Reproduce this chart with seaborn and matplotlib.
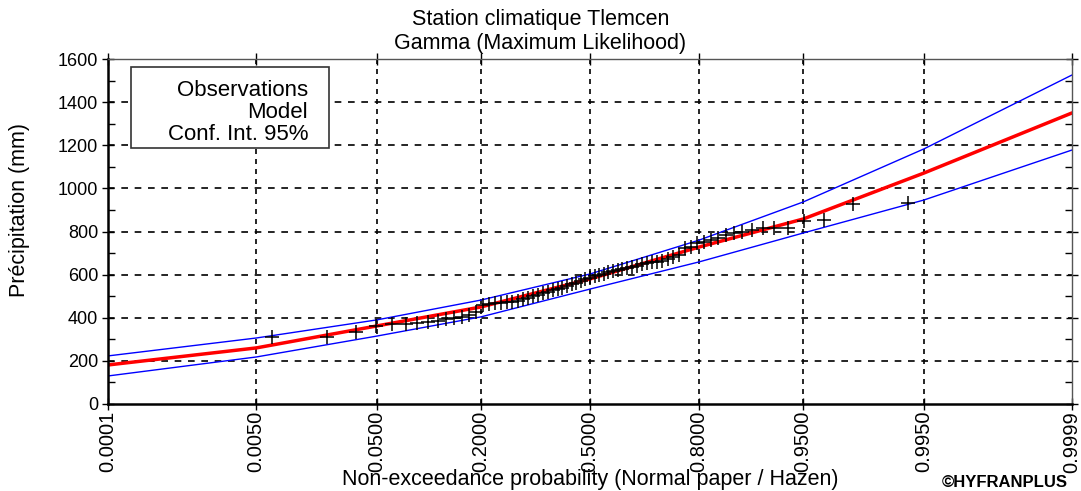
from statistics import NormalDist
import numpy as np
import pandas as pd
import seaborn as sns
import matplotlib.pyplot as plt
from matplotlib.patches import Rectangle
from matplotlib.ticker import FixedLocator, MultipleLocator

# observed annual precipitation (mm), sorted
obs_mm = [310, 312, 335, 362, 370, 372, 375, 378, 385, 392,
          400, 405, 415, 425, 460, 465, 468, 470, 472, 475,
          480, 485, 492, 500, 505, 515, 520, 528, 532, 538,
          545, 555, 563, 572, 580, 585, 595, 600, 605, 612,
          615, 620, 625, 630, 635, 640, 648, 652, 658, 660,
          663, 672, 680, 690, 722, 730, 745, 752, 760, 772,
          782, 795, 800, 808, 815, 815, 815, 850, 855, 928,
          930]

# fitted gamma quantiles and 95% confidence bounds
model_p = [0.0001, 0.005, 0.05, 0.2, 0.5, 0.8, 0.95, 0.995, 0.9999]
model_mm = [181, 260, 362, 450, 580, 728, 858, 1071, 1350]
upper_mm = [223, 306, 390, 482, 603, 760, 937, 1183, 1526]
lower_mm = [130, 218, 315, 404, 533, 659, 793, 946, 1178]

tick_p = [0.0001, 0.005, 0.05, 0.2, 0.5, 0.8, 0.95, 0.995, 0.9999]
tick_labels = ['0.0001', '0.0050', '0.0500', '0.2000', '0.5000',
               '0.8000', '0.9500', '0.9950', '0.9999']

nd = NormalDist()
n = len(obs_mm)
hazen = [(i - 0.5) / n for i in range(1, n + 1)]
obs = pd.DataFrame({'z': [nd.inv_cdf(p) for p in hazen], 'mm': obs_mm})
fit = pd.DataFrame({'z': [nd.inv_cdf(p) for p in model_p],
                    'model': model_mm, 'upper': upper_mm, 'lower': lower_mm})

sns.set_theme(style='white')
plt.rcParams['font.family'] = ['Liberation Sans', 'DejaVu Sans']
plt.rcParams.update({'text.color': 'black', 'axes.labelcolor': 'black',
                     'xtick.color': 'black', 'ytick.color': 'black'})

fig = plt.figure(figsize=(10.81, 4.91), dpi=100)
ax = fig.add_axes([0.0999, 0.1772, 0.8918, 0.7026])

sns.lineplot(data=fit, x='z', y='upper', color='#0000ff', lw=1, ax=ax)
sns.lineplot(data=fit, x='z', y='lower', color='#0000ff', lw=1, ax=ax)
sns.lineplot(data=fit, x='z', y='model', color='#ff0000', lw=2.5, ax=ax)
sns.scatterplot(data=obs, x='z', y='mm', marker='+', s=100, color='black',
                linewidth=1.1, ax=ax, zorder=4)

zt = [nd.inv_cdf(p) for p in tick_p]
ax.set_xlim(zt[0], zt[-1])
ax.set_ylim(0, 1600)
ax.xaxis.set_major_locator(FixedLocator(zt))
ax.set_xticklabels(tick_labels, rotation=90, fontsize=14.5)
ax.yaxis.set_major_locator(MultipleLocator(200))
ax.yaxis.set_minor_locator(MultipleLocator(100))
ax.tick_params(axis='y', labelsize=13)
ax.tick_params(which='major', direction='inout', length=8, width=1,
               color='black', top=True, right=True, bottom=True, left=True)
ax.tick_params(which='minor', direction='in', length=5, width=1,
               color='black', left=True, right=True)
ax.tick_params(axis='x', pad=1)
ax.tick_params(axis='y', pad=3)

for z in zt[1:-1]:
    ax.axvline(z, color='black', lw=1.2, ls=(0, (3, 3)), zorder=1)
for v in range(200, 1600, 200):
    ax.axhline(v, color='black', lw=1.2, ls=(0, (4, 4)), zorder=1)

for side in ['left', 'bottom']:
    ax.spines[side].set_linewidth(1.8)
    ax.spines[side].set_color('black')
for side in ['top', 'right']:
    ax.spines[side].set_linewidth(1)
    ax.spines[side].set_color('#555555')

ax.set_xlabel('Non-exceedance probability (Normal paper / Hazen)', fontsize=15.5)
ax.xaxis.set_label_coords(0.5, -0.1884)
ax.set_ylabel('Précipitation (mm)', fontsize=15.5)
ax.yaxis.set_label_coords(-0.081, 0.562)

# legend box (text only, as in the original)
ax.add_patch(Rectangle((0.0239, 0.742), 0.2054, 0.235, transform=ax.transAxes,
                       fc='white', ec='#333333', lw=1.2, zorder=6))
for txt, yy in zip(['Observations', 'Model', 'Conf. Int. 95%'], [90, 112, 134]):
    ax.text(0.2075, (404 - yy) / 345, txt, transform=ax.transAxes,
            ha='right', va='center', fontsize=16, zorder=7)

fig.text(0.5, 0.96, 'Station climatique Tlemcen', ha='center', va='center', fontsize=15.5)
fig.text(0.5, 0.912, 'Gamma (Maximum Likelihood)', ha='center', va='center', fontsize=15.5)
fig.text(0.988, 0.018, '©HYFRANPLUS', ha='right', va='center', fontsize=12,
         fontweight='bold')

fig.savefig('out.png', dpi=100)
